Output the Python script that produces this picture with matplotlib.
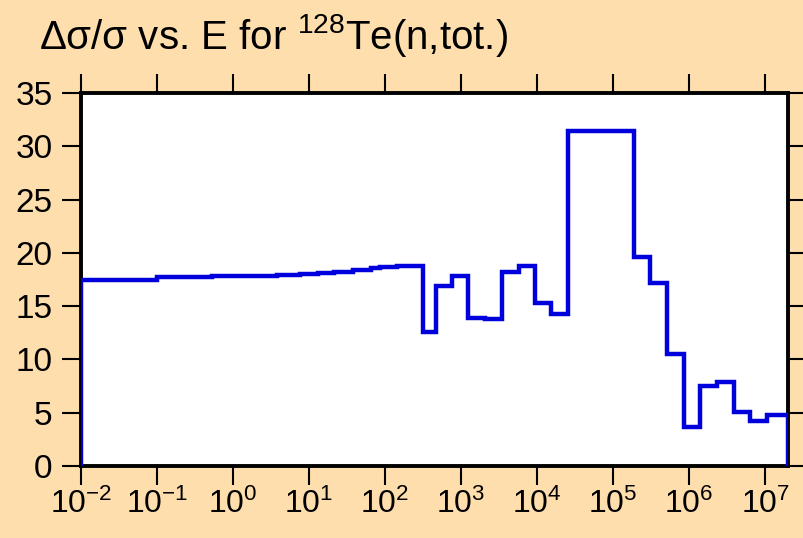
import numpy as np
import matplotlib
matplotlib.use('Agg')
import matplotlib.pyplot as plt

plt.rcParams['font.family'] = ['Liberation Sans', 'DejaVu Sans']
plt.rcParams['mathtext.fontset'] = 'custom'
plt.rcParams['mathtext.rm'] = 'Liberation Sans'
plt.rcParams['mathtext.it'] = 'Liberation Sans:italic'
plt.rcParams['mathtext.bf'] = 'Liberation Sans:bold'

# bin edges (eV) and relative uncertainty (%)
edges = [1e-2, 1e-1, 0.53, 3.8, 7.7, 13, 21, 38, 65, 86, 143, 312, 463, 760,
         1250, 2090, 3440, 5700, 9300, 15400, 25600, 1.9e5, 3.1e5, 5.16e5,
         8.5e5, 1.41e6, 2.33e6, 3.84e6, 6.3e6, 1.05e7, 2e7]
unc = [17.5, 17.7, 17.85, 17.95, 18.05, 18.15, 18.25, 18.4, 18.55, 18.7,
       18.8, 12.6, 16.9, 17.85, 13.9, 13.75, 18.2, 18.8, 15.25, 14.3,
       31.4, 19.6, 17.2, 10.55, 3.7, 7.55, 7.9, 5.05, 4.25, 4.75]

xticks = [1e-2, 1e-1, 1e0, 1e1, 1e2, 1e3, 1e4, 1e5, 1e6, 1e7]
xlabels = [r'$\mathregular{10^{-2}}$', r'$\mathregular{10^{-1}}$',
           r'$\mathregular{10^{0}}$', r'$\mathregular{10^{1}}$',
           r'$\mathregular{10^{2}}$', r'$\mathregular{10^{3}}$',
           r'$\mathregular{10^{4}}$', r'$\mathregular{10^{5}}$',
           r'$\mathregular{10^{6}}$', r'$\mathregular{10^{7}}$']
yticks = [0, 5, 10, 15, 20, 25, 30, 35]

bg = '#FFDEAD'
fig = plt.figure(figsize=(8.04, 5.38), dpi=100, facecolor=bg)
ax = fig.add_axes([81/804, 72/538, 707/804, 373/538])
ax.set_facecolor('white')

ax.stairs(unc, edges, baseline=0, color='#0000dd', linewidth=3.2, zorder=3)

ax.set_xscale('log')
ax.set_xlim(1e-2, 2e7)
ax.set_ylim(0, 35)
ax.set_xticks(xticks)
ax.set_xticklabels(xlabels)
ax.xaxis.set_minor_locator(matplotlib.ticker.NullLocator())
ax.set_yticks(yticks)

for s in ax.spines.values():
    s.set_linewidth(2.8)
ax.tick_params(axis='both', direction='out', length=13.5, width=1.5,
               top=True, right=True, colors='black')
ax.tick_params(axis='y', pad=7, labelsize=24)
ax.tick_params(axis='x', pad=3, labelsize=23)

fig.text(39/804, 1 - 49/538, r'Δσ/σ vs. E for $^{128}$Te(n,tot.)',
         fontsize=29, va='baseline', ha='left')

fig.savefig('out.png', dpi=100, facecolor=bg)
